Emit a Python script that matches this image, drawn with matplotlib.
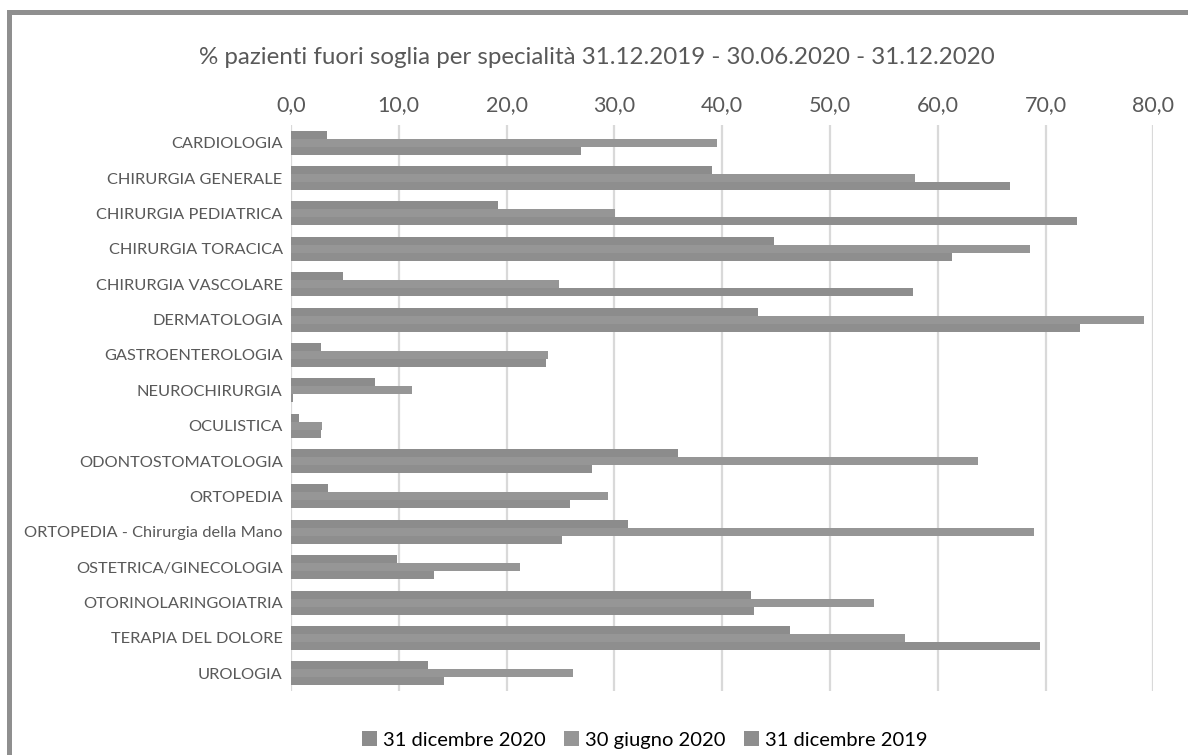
import matplotlib
matplotlib.use('Agg')
import matplotlib.pyplot as plt
from matplotlib.patches import Rectangle
from matplotlib.ticker import FuncFormatter, MultipleLocator
import numpy as np

# Specialities and % of patients over the waiting-time threshold
specialita = [
    'CARDIOLOGIA', 'CHIRURGIA GENERALE', 'CHIRURGIA PEDIATRICA', 'CHIRURGIA TORACICA',
    'CHIRURGIA VASCOLARE', 'DERMATOLOGIA', 'GASTROENTEROLOGIA', 'NEUROCHIRURGIA',
    'OCULISTICA', 'ODONTOSTOMATOLOGIA', 'ORTOPEDIA', 'ORTOPEDIA - Chirurgia della Mano',
    'OSTETRICA/GINECOLOGIA', 'OTORINOLARINGOIATRIA', 'TERAPIA DEL DOLORE', 'UROLOGIA',
]
dic_2020 = [3.3, 39.1, 19.2, 44.8, 4.8, 43.3, 2.8, 7.8, 0.7, 35.9, 3.4, 31.3, 9.8, 42.7, 46.3, 12.7]
giu_2020 = [39.5, 57.9, 30.1, 68.6, 24.9, 79.1, 23.8, 11.2, 2.9, 63.7, 29.4, 68.9, 21.2, 54.1, 57.0, 26.2]
dic_2019 = [26.9, 66.7, 72.9, 61.3, 57.7, 73.2, 23.7, 0.2, 2.8, 27.9, 25.9, 25.1, 13.3, 43.0, 69.5, 14.2]

serie = ['31 dicembre 2020', '30 giugno 2020', '31 dicembre 2019']
colori = ['#8c8c8c', '#969696', '#8e8e8e']
testo = '#595959'

plt.rcParams['font.family'] = ['Lato', 'DejaVu Sans']

fig = plt.figure(figsize=(11.88, 7.55), dpi=100)
ax = fig.add_axes([291 / 1188, 1 - 691 / 755, (1153.3 - 291) / 1188, (691 - 125) / 755])

y = np.arange(len(specialita))
h = 0.227
for k, (vals, lab, col) in enumerate(zip([dic_2020, giu_2020, dic_2019], serie, colori)):
    ax.barh(y + (k - 1) * h, vals, height=h, color=col, label=lab, zorder=2)

ax.set_xlim(0, 80)
ax.set_ylim(len(specialita) - 0.5, -0.5)
ax.xaxis.set_major_locator(MultipleLocator(10))
ax.xaxis.set_major_formatter(FuncFormatter(lambda v, p: f"{v:.1f}".replace('.', ',')))
ax.xaxis.tick_top()
ax.tick_params(axis='x', length=0, labelsize=15.5, labelcolor=testo, pad=7)
ax.set_yticks(y)
ax.set_yticklabels(specialita)
ax.tick_params(axis='y', length=0, labelsize=11.8, labelcolor=testo, pad=6)
ax.grid(axis='x', color='#d9d9d9', linewidth=1.6, zorder=0)
ax.set_axisbelow(True)
for s in ax.spines.values():
    s.set_visible(False)

fig.text(597 / 1188, 1 - 57 / 755, '% pazienti fuori soglia per specialità 31.12.2019 - 30.06.2020 - 31.12.2020',
         ha='center', va='center', fontsize=17.4, color=testo)

fig.legend(loc='center', bbox_to_anchor=(645 / 1188, 1 - 740 / 755), ncol=3, frameon=False,
           fontsize=14.5, handlelength=0.75, handleheight=0.75, handletextpad=0.3, columnspacing=0.9,
           labelcolor='black')

# grey frame around the chart
fig.patches.append(Rectangle((8.5 / 1188, -0.1), 1.2, 1.1 - 12 / 755, transform=fig.transFigure,
                             fill=False, edgecolor='#8f8f8f', linewidth=3.6, clip_on=False))

fig.savefig('out.png', dpi=100, facecolor='white')
